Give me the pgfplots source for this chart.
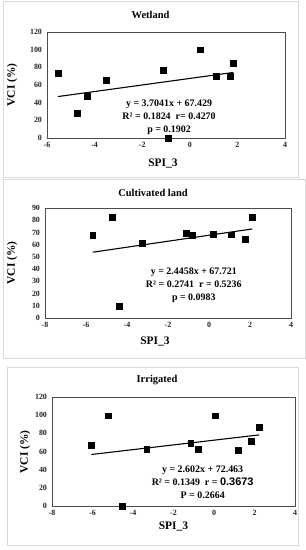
\documentclass[border=0pt]{standalone}
\usepackage{fontspec}
\setmainfont{Liberation Serif}
\newfontfamily\arialfont{Liberation Sans}
\usepackage{pgfplots}
\pgfplotsset{compat=1.18}
\tikzset{ann/.style={align=center, inner sep=0pt, font=\fontsize{10}{13}\selectfont\bfseries}}
\pgfplotsset{every axis title/.style={at={(0.5,1)}, anchor=center}}
\pgfplotsset{panel/.style={
  scale only axis, clip=false,
  axis line style={black!70,line width=0.8bp},
  tick style={draw=none},
  ticklabel style={font=\fontsize{8}{9}\selectfont\bfseries, text=black!85},
  /pgf/number format/assume math mode=true,
  xticklabel style={yshift=-1bp},
  yticklabel style={xshift=-1.5bp},
  label style={font=\fontsize{11.5}{13}\selectfont\bfseries},
  title style={font=\fontsize{10.5}{12}\selectfont\bfseries},
  xlabel = {SPI\_3},
  ylabel = {VCI (\%)},
  pts/.style={only marks, mark=square*, mark size=2.9bp, black},
  trend/.style={black, line width=1.1bp, no marks},
}}
\begin{document}
\begin{tikzpicture}
\path[use as bounding box] (0,0) rectangle (306bp,-550bp);
\fill[white] (0,0) rectangle (306bp,-550bp);
\draw[black!15, line width=0.8bp] (3bp,-1bp) rectangle (298bp,-177bp);
\draw[black!15, line width=0.8bp] (3bp,-179bp) rectangle (305bp,-358bp);
\draw[black!15, line width=0.8bp] (7bp,-367bp) rectangle (298bp,-545bp);

% Panel 1: Wetland
\begin{axis}[panel, at={(47bp,-138bp)}, anchor=south west,
  width=238bp, height=106bp,
  xmin=-6, xmax=4, ymin=0, ymax=120,
  xtick={-6,-4,-2,0,2,4}, ytick={0,20,40,60,80,100,120},
  title={Wetland}, title style={at={(axis description cs:0.435,1.16)}},
  xlabel style={at={(axis description cs:0.487,-0.236)}, anchor=center},
  ylabel style={at={(axis description cs:-0.147,0.5)}, anchor=center},
]
\addplot[pts] coordinates {(-5.54,73.1) (-4.74,28.1) (-4.32,47.6) (-3.50,65.6) (-1.13,76.9) (-0.90,0) (0.45,100) (1.12,70.1) (1.69,70.1) (1.83,85.1)};
\addplot[trend] coordinates {(-5.54,46.91) (1.83,74.21)};
\node[ann] at (axis description cs:0.513,0.198) {y = 3.7041x + 67.429\\R² = 0.1824~~r= 0.4270\\p = 0.1902};
\end{axis}

% Panel 2: Cultivated land
\begin{axis}[panel, at={(45bp,-318bp)}, anchor=south west,
  width=246bp, height=110bp,
  xmin=-8, xmax=4, ymin=0, ymax=90,
  xtick={-8,-6,-4,-2,0,2,4}, ytick={0,10,20,30,40,50,60,70,80,90},
  title={Cultivated land}, title style={at={(axis description cs:0.439,1.136)}},
  xlabel style={at={(axis description cs:0.447,-0.218)}, anchor=center},
  ylabel style={at={(axis description cs:-0.134,0.5)}, anchor=center},
]
\addplot[pts] coordinates {(-5.67,67.7) (-4.74,82.3) (-4.40,9.7) (-3.24,61.0) (-1.11,69.1) (-0.80,67.7) (0.20,68.5) (1.09,68.2) (1.76,64.6) (2.11,82.3)};
\addplot[trend] coordinates {(-5.67,53.85) (2.11,72.88)};
\node[ann] at (axis description cs:0.605,0.30) {y = 2.4458x + 67.721\\R² = 0.2741~~r = 0.5236\\p = 0.0983};
\end{axis}

% Panel 3: Irrigated
\begin{axis}[panel, at={(52bp,-506bp)}, anchor=south west,
  width=243bp, height=109bp,
  xmin=-8, xmax=4, ymin=0, ymax=120,
  xtick={-8,-6,-4,-2,0,2,4}, ytick={0,20,40,60,80,100,120},
  title={Irrigated}, title style={at={(axis description cs:0.432,1.16)}},
  xlabel style={at={(axis description cs:0.50,-0.19)}, anchor=center},
  ylabel style={at={(axis description cs:-0.111,0.495)}, anchor=center},
]
\addplot[pts] coordinates {(-6.05,67.0) (-5.22,99.5) (-4.54,0) (-3.32,62.2) (-1.15,68.8) (-0.78,62.2) (0.06,99.5) (1.20,61.5) (1.84,71.3) (2.23,87.1)};
\addplot[trend] coordinates {(-6.05,56.72) (2.23,78.27)};
\node[ann] at (axis description cs:0.62,0.22) {y = 2.602x + 72.463\\R² = 0.1349~~r = {\arialfont\fontsize{11}{13}\selectfont\bfseries 0.3673}\\P = 0.2664};
\end{axis}
\end{tikzpicture}
\end{document}
